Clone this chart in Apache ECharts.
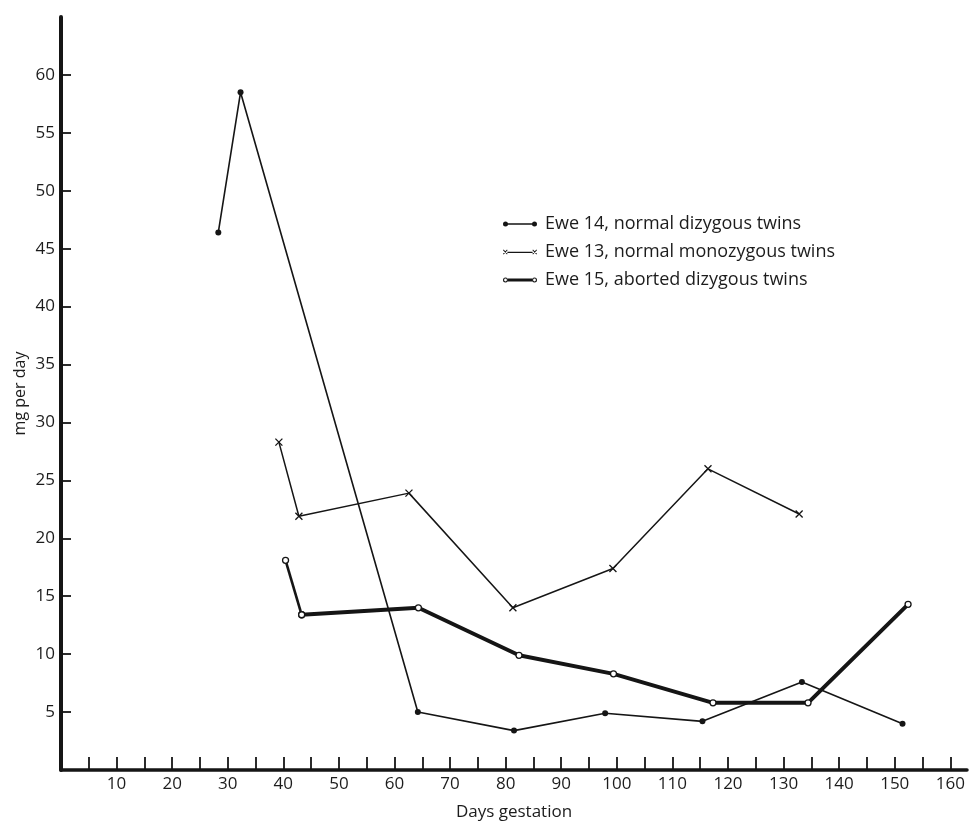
<!DOCTYPE html>
<html>
<head>
<meta charset="utf-8">
<title>Excretion per day during gestation</title>
<script src="https://cdn.jsdelivr.net/npm/echarts@6/dist/echarts.min.js"></script>
<style>
  html, body { margin: 0; padding: 0; background: #fff; overflow: hidden; }
  #chart { width: 971px; height: 821px; }
</style>
</head>
<body>
<div id="chart"></div>
<script>
// Days of gestation and mg per day for each ewe
const ewe14Days = [28.3, 32.3, 64.2, 81.5, 97.9, 115.4, 133.3, 151.4];
const ewe14Values = [46.4, 58.5, 5.0, 3.4, 4.9, 4.2, 7.6, 4.0];

const ewe13Days = [39.2, 42.8, 62.6, 81.3, 99.3, 116.4, 132.8];
const ewe13Values = [28.3, 21.9, 23.9, 14.0, 17.4, 26.0, 22.1];

const ewe15Days = [40.4, 43.3, 64.3, 82.4, 99.4, 117.3, 134.4, 152.4];
const ewe15Values = [18.1, 13.4, 14.0, 9.9, 8.3, 5.8, 5.8, 14.3];

const seriesNames = [
  'Ewe 14, normal dizygous twins',
  'Ewe 13, normal monozygous twins',
  'Ewe 15, aborted dizygous twins'
];

// Tick positions and labels
const xTickValues = [5, 10, 15, 20, 25, 30, 35, 40, 45, 50, 55, 60, 65, 70, 75, 80,
  85, 90, 95, 100, 105, 110, 115, 120, 125, 130, 135, 140, 145, 150, 155, 160];
const xLabelValues = [10, 20, 30, 40, 50, 60, 70, 80, 90, 100, 110, 120, 130, 140, 150, 160];
const yTickValues = [5, 10, 15, 20, 25, 30, 35, 40, 45, 50, 55, 60];

const ink = '#151515';
const textInk = '#1c1c1c';
const font = '"Open Sans", Lato, sans-serif';
const crossSymbol = 'path://M0,0L10,10M10,0L0,10';

// Legend keys: a short line with the point marker at each end
const keyDots = 'path://M0,5A2.5,2.5 0 1,1 5,5A2.5,2.5 0 1,1 0,5Z' +
  'M29,5A2.5,2.5 0 1,1 34,5A2.5,2.5 0 1,1 29,5Z' +
  'M4,4.2L30,4.2L30,5.8L4,5.8Z';
const keyCrosses = 'path://M0,2.9L0.6,2.3L4.6,6.5L4,7.1Z' +
  'M0,6.5L4,2.3L4.6,2.9L0.6,7.1Z' +
  'M29.4,2.9L30,2.3L34,6.5L33.4,7.1Z' +
  'M29.4,6.5L33.4,2.3L34,2.9L30,7.1Z' +
  'M4.4,4.4L29.6,4.4L29.6,5.6L4.4,5.6Z';
const keyRings = 'path://M0,5A2.5,2.5 0 1,1 5,5A2.5,2.5 0 1,1 0,5Z' +
  'M1.1,5A1.4,1.4 0 1,0 3.9,5A1.4,1.4 0 1,0 1.1,5Z' +
  'M29,5A2.5,2.5 0 1,1 34,5A2.5,2.5 0 1,1 29,5Z' +
  'M30.1,5A1.4,1.4 0 1,0 32.9,5A1.4,1.4 0 1,0 30.1,5Z' +
  'M5,3.6L29,3.6L29,6.4L5,6.4Z';
const legendKeys = [keyDots, keyCrosses, keyRings];

function pairs(xs, ys) {
  return xs.map((x, i) => [x, ys[i]]);
}

const ewe15Points = pairs(ewe15Days, ewe15Values);

const chart = echarts.init(document.getElementById('chart'), null, { renderer: 'canvas' });

chart.setOption({
  animation: false,
  backgroundColor: '#fff',
  textStyle: { fontFamily: font, color: textInk },
  grid: {
    left: 61, top: 17, width: 906, bottom: 51,
    containLabel: false,
    outerBoundsMode: 'none'
  },
  legend: {
    orient: 'vertical',
    left: 503,
    top: 215,
    padding: 0,
    itemWidth: 34,
    itemHeight: 10,
    itemGap: 10,
    textStyle: { fontFamily: font, fontSize: 18, color: textInk, lineHeight: 18, padding: [0, 0, 0, 3] },
    data: seriesNames.map((name, i) => ({
      name: name,
      icon: legendKeys[i],
      itemStyle: { color: ink, borderColor: ink, borderWidth: 0 }
    }))
  },
  xAxis: {
    type: 'value',
    min: 0,
    max: 163,
    name: 'Days gestation',
    nameLocation: 'middle',
    nameGap: 34,
    nameMoveOverlap: false,
    nameTextStyle: { fontFamily: font, fontSize: 17, color: textInk },
    axisLine: { show: true, onZero: false, lineStyle: { color: ink, width: 3.5 } },
    axisTick: {
      show: true, inside: true, length: 13,
      customValues: xTickValues,
      lineStyle: { color: ink, width: 1.8 }
    },
    axisLabel: {
      show: true, margin: 6,
      customValues: xLabelValues,
      fontFamily: font, fontSize: 17, color: textInk
    },
    splitLine: { show: false }
  },
  yAxis: {
    type: 'value',
    min: 0,
    max: 65,
    name: 'mg per day',
    nameLocation: 'middle',
    nameGap: 33,
    nameMoveOverlap: false,
    nameRotate: 90,
    nameTextStyle: { fontFamily: font, fontSize: 16, color: textInk },
    axisLine: { show: true, onZero: false, lineStyle: { color: ink, width: 4 } },
    axisTick: {
      show: true, inside: true, length: 10,
      customValues: yTickValues,
      lineStyle: { color: ink, width: 1.8 }
    },
    axisLabel: {
      show: true, margin: 6,
      customValues: yTickValues,
      fontFamily: font, fontSize: 17, color: textInk
    },
    splitLine: { show: false }
  },
  series: [
    {
      name: seriesNames[0],
      type: 'line',
      data: pairs(ewe14Days, ewe14Values),
      smooth: false,
      clip: false,
      symbol: 'circle',
      symbolSize: 6,
      lineStyle: { color: ink, width: 1.6 },
      itemStyle: { color: ink }
    },
    {
      name: seriesNames[1],
      type: 'line',
      data: pairs(ewe13Days, ewe13Values),
      smooth: false,
      clip: false,
      symbol: crossSymbol,
      symbolSize: 7,
      lineStyle: { color: ink, width: 1.5 },
      itemStyle: { color: 'rgba(0,0,0,0)', borderColor: ink, borderWidth: 1.3 }
    },
    {
      // opening drop of Ewe 15 is drawn with a lighter stroke
      name: seriesNames[2],
      type: 'line',
      data: ewe15Points.slice(0, 2),
      smooth: false,
      clip: false,
      symbol: 'circle',
      symbolSize: 6,
      lineStyle: { color: ink, width: 2.6 },
      itemStyle: { color: '#fff', borderColor: ink, borderWidth: 1.3 }
    },
    {
      name: seriesNames[2],
      type: 'line',
      data: ewe15Points.slice(1),
      smooth: false,
      clip: false,
      symbol: 'circle',
      symbolSize: 6,
      lineStyle: { color: ink, width: 4 },
      itemStyle: { color: '#fff', borderColor: ink, borderWidth: 1.3 }
    }
  ]
});
</script>
</body>
</html>
